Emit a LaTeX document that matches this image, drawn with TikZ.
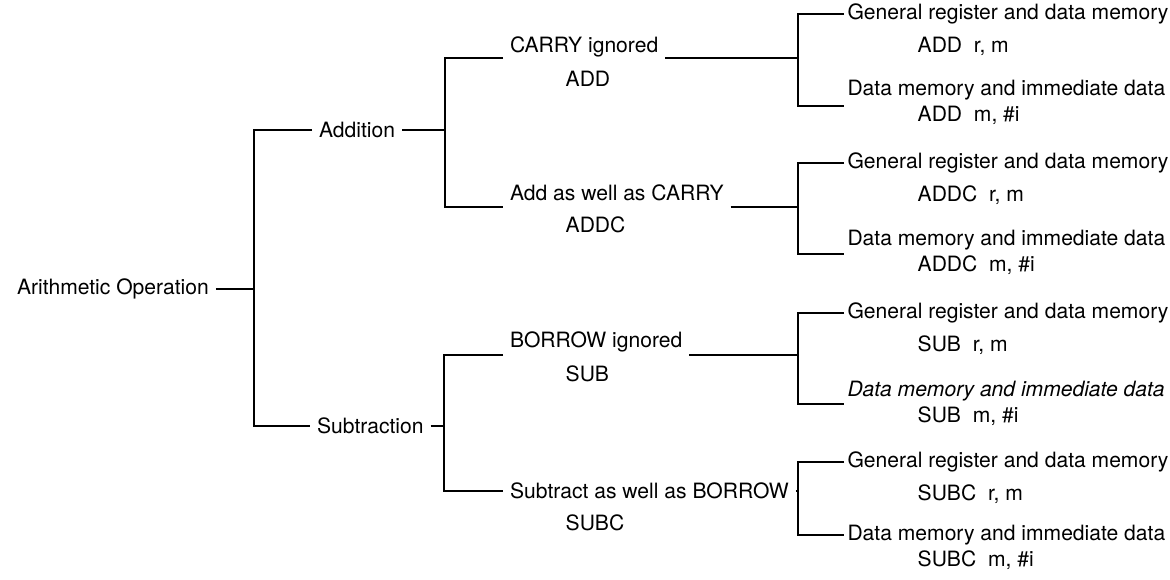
\documentclass[tikz,border=0pt]{standalone}
\usepackage{fontspec}
\setmainfont{TeX Gyre Heros}
\usetikzlibrary{positioning}
\tikzset{
  every picture/.style={line width=0.8pt},
  lbl/.style={font=\fontsize{12}{14}\selectfont, inner sep=0pt, outer xsep=4pt, anchor=west},
  leaf/.style={lbl, outer xsep=2pt},
  code/.style={font=\fontsize{12}{14}\selectfont, inner sep=0pt, anchor=west},
}

\begin{document}
\begin{tikzpicture}[x=0.02cm, y=-0.02cm]
  \useasboundingbox (0,0) rectangle (1170,579);
  % first two levels
  \node[lbl] (root) at (10,289) {Arithmetic Operation};
  \node[lbl] (addn) at (312,130) {Addition};
  \node[lbl] (subn) at (310,426) {Subtraction};
  \coordinate (j0) at (254,289);
  \coordinate (j1) at (445,130);
  \coordinate (j2) at (444,426);
  \draw (root.east) -- (j0);
  \draw (addn.west) -| (j0) |- (subn.west);
  \draw (addn.east) -- (j1);
  \draw (subn.east) -- (j2);
  % carry / borrow choice
  \foreach \txt/\mn/\ty/\sh [count=\k] in {CARRY ignored/ADD/47/11, Add as well as CARRY/ADDC/193/14, BORROW ignored/SUB/342/13, Subtract as well as BORROW/SUBC/491/0}{
    \node[lbl] (m\k) at (503,\ty) {\txt};
    \node[code] (mc\k) at (565,\ty+32) {\mn};
    \coordinate (b\k) at (798,\ty+\sh);
    \draw ([yshift={-\sh*0.02cm}]m\k.east) -- (b\k);
  }
  \draw ([yshift=-0.22cm]m1.west) -| (j1) |- ([yshift=-0.28cm]m2.west);
  \draw ([yshift=-0.26cm]m3.west) -| (j2) |- (m4.west);
  % operand forms
  \foreach \mn/\gy/\dy/\by/\fs [count=\k] in {ADD/14/90/106/\upshape, ADDC/163/240/254/\upshape, SUB/313/391/404/\itshape, SUBC/462/535/535/\upshape}{
    \node[leaf] (g\k) at (844,\gy) {General register and data memory};
    \node[code] (gc\k) at (917,\gy+32) {\mn~~r, m};
    \node[leaf] (d\k) at (844,\dy) {\fs Data memory and immediate data};
    \node[code] (dc\k) at (917,\dy+25) {\mn~~m, \#i};
    \draw (g\k.west) -| (b\k) |- ([yshift={-(\by-\dy)*0.02cm}]d\k.west);
  }
\end{tikzpicture}
\end{document}
